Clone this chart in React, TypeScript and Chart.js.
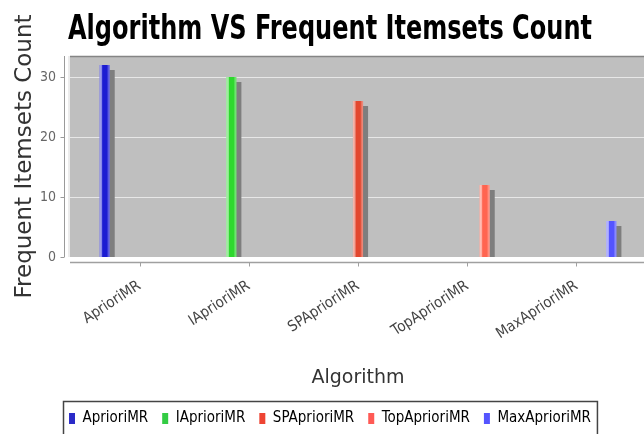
import React, { useEffect, useRef } from 'react';
import { Chart, registerables } from 'chart.js';

Chart.register(...registerables);

const categories = ['AprioriMR', 'IAprioriMR', 'SPAprioriMR', 'TopAprioriMR', 'MaxAprioriMR'];
const seriesNames = ['AprioriMR', 'IAprioriMR', 'SPAprioriMR', 'TopAprioriMR', 'MaxAprioriMR'];
const itemsetCounts = [32, 30, 26, 12, 6];
const barColors = ['#1c1cd2', '#2ed82e', '#e2472f', '#ff6450', '#5454ff'];
const legendColors = ['#2a2ac8', '#33cc44', '#ee4433', '#ff5a55', '#5555ff'];
const yTickValues = [0, 10, 20, 30];
const yMax = 33.5;

const chartTitle = 'Algorithm VS Frequent Itemsets Count';
const xTitle = 'Algorithm';
const yTitle = 'Frequent Itemsets Count';

const plotDecor = {
  id: 'plotDecor',
  beforeDatasetsDraw(chart: any) {
    const { ctx, chartArea: ca, scales } = chart;
    const y = scales.y;
    const x = scales.x;
    const bgLeft = ca.left - 15;
    ctx.save();
    ctx.fillStyle = '#bfbfbf';
    ctx.fillRect(bgLeft, ca.top, chart.width - bgLeft, ca.bottom - ca.top);
    ctx.strokeStyle = 'rgba(235,235,235,0.9)';
    ctx.lineWidth = 1;
    yTickValues.forEach((v) => {
      if (v === 0) return;
      const py = Math.round(y.getPixelForValue(v)) + 0.5;
      ctx.beginPath();
      ctx.moveTo(bgLeft, py);
      ctx.lineTo(chart.width, py);
      ctx.stroke();
    });
    ctx.strokeStyle = '#858585';
    ctx.lineWidth = 1.5;
    ctx.beginPath();
    ctx.moveTo(bgLeft, ca.top + 0.5);
    ctx.lineTo(chart.width, ca.top + 0.5);
    ctx.stroke();
    ctx.strokeStyle = '#e6e6e6';
    ctx.lineWidth = 1.5;
    ctx.beginPath();
    ctx.moveTo(bgLeft - 1, ca.top);
    ctx.lineTo(bgLeft - 1, ca.bottom);
    ctx.stroke();
    const axX = ca.left - 20.5;
    ctx.strokeStyle = '#9a9a9a';
    ctx.lineWidth = 1;
    ctx.beginPath();
    ctx.moveTo(axX, ca.top);
    ctx.lineTo(axX, ca.bottom);
    ctx.stroke();
    yTickValues.forEach((v) => {
      const py = Math.round(y.getPixelForValue(v)) + 0.5;
      ctx.beginPath();
      ctx.moveTo(axX - 4, py);
      ctx.lineTo(axX, py);
      ctx.stroke();
    });
    const axY = ca.bottom + 5.5;
    ctx.strokeStyle = '#a0a0a0';
    ctx.lineWidth = 1.5;
    ctx.beginPath();
    ctx.moveTo(bgLeft, axY);
    ctx.lineTo(chart.width, axY);
    ctx.stroke();
    ctx.lineWidth = 1;
    categories.forEach((_, i) => {
      const px = Math.round(x.getPixelForValue(i)) + 0.5;
      ctx.beginPath();
      ctx.moveTo(px, axY);
      ctx.lineTo(px, axY + 4);
      ctx.stroke();
    });
    ctx.restore();
    ctx.save();
    ctx.shadowColor = '#7e7e7e';
    ctx.shadowOffsetX = 5;
    ctx.shadowOffsetY = 5;
    ctx.shadowBlur = 0;
  },
  afterDatasetsDraw(chart: any) {
    const { ctx, chartArea: ca } = chart;
    ctx.restore();
    ctx.save();
    ctx.beginPath();
    ctx.rect(ca.left - 15, ca.top, chart.width, ca.bottom - ca.top);
    ctx.clip();
    chart.data.datasets.forEach((ds: any, di: number) => {
      const meta = chart.getDatasetMeta(di);
      meta.data.forEach((el: any, j: number) => {
        if (ds.data[j] == null) return;
        const p = el.getProps(['x', 'y', 'base', 'width'], true);
        const left = p.x - p.width / 2;
        const g = ctx.createLinearGradient(left, 0, left + p.width, 0);
        g.addColorStop(0, 'rgba(255,255,255,0.65)');
        g.addColorStop(0.22, 'rgba(255,255,255,0.45)');
        g.addColorStop(0.3, 'rgba(255,255,255,0)');
        g.addColorStop(0.72, 'rgba(255,255,255,0)');
        g.addColorStop(0.85, 'rgba(255,255,255,0.25)');
        g.addColorStop(1, 'rgba(255,255,255,0.4)');
        ctx.fillStyle = g;
        ctx.fillRect(left, p.y, p.width, p.base - p.y);
      });
    });
    ctx.restore();
  },
  afterDraw(chart: any) {
    const { ctx } = chart;
    // chart title, horizontally condensed like the original
    ctx.save();
    ctx.font = 'bold 34px "DejaVu Sans Condensed", "DejaVu Sans", sans-serif';
    ctx.fillStyle = '#000';
    ctx.textAlign = 'center';
    ctx.textBaseline = 'alphabetic';
    const w = ctx.measureText(chartTitle).width;
    const sx = 524 / w;
    ctx.translate(330, 39);
    ctx.scale(sx, 1);
    ctx.fillText(chartTitle, 0, 0);
    ctx.restore();

    const lg = chart.legend;
    if (!lg || !lg.legendHitBoxes || !lg.legendHitBoxes.length) return;
    const boxes = lg.legendHitBoxes;
    let minL = Infinity;
    let maxR = -Infinity;
    boxes.forEach((b: any) => {
      minL = Math.min(minL, b.left);
      maxR = Math.max(maxR, b.left + b.width);
    });
    ctx.save();
    ctx.strokeStyle = '#444';
    ctx.lineWidth = 1.5;
    ctx.strokeRect(Math.round(minL - 6) + 0.5, Math.round(lg.top + 4) + 0.5, maxR - minL + 12, 44);
    ctx.restore();
  },
};

export default function App() {
  const ref = useRef<HTMLCanvasElement | null>(null);
  useEffect(() => {
    if (!ref.current) return;
    const chart = new Chart(ref.current, {
      type: 'bar',
      data: {
        labels: categories,
        datasets: seriesNames.map((name, i) => ({
          label: name,
          data: categories.map((_, j) => (j === i ? itemsetCounts[i] : null)),
          backgroundColor: barColors[i],
          borderWidth: 0,
          categoryPercentage: 0.8,
          barPercentage: 0.58,
          yAxisID: 'y',
        })),
      },
      options: {
        responsive: false,
        animation: false,
        events: [],
        layout: { padding: { top: 56, left: 0, right: 0, bottom: 0 } },
        scales: {
          x: {
            grid: { display: false, drawTicks: false },
            border: { display: false },
            ticks: {
              autoSkip: false,
              minRotation: 33,
              maxRotation: 33,
              padding: 20,
              color: '#444',
              font: { family: '"DejaVu Sans Condensed", "DejaVu Sans", sans-serif', size: 15 },
            },
            title: {
              display: true,
              text: xTitle,
              color: '#333',
              padding: { top: 0, bottom: 8 },
              font: { family: '"DejaVu Sans", sans-serif', size: 19 },
            },
            afterFit: (s: any) => {
              s.height = 140;
            },
          },
          y: {
            min: 0,
            max: yMax,
            grid: { display: false, drawTicks: false },
            border: { display: false },
            ticks: {
              stepSize: 10,
              includeBounds: false,
              padding: 29,
              color: '#666',
              font: { family: '"DejaVu Sans Condensed", "DejaVu Sans", sans-serif', size: 14 },
            },
            title: {
              display: true,
              text: yTitle,
              color: '#333',
              padding: { top: 11, bottom: 0 },
              font: { family: '"DejaVu Sans", sans-serif', size: 23 },
            },
            afterFit: (s: any) => {
              s.width = 85;
            },
          },
          yR: {
            type: 'linear',
            position: 'right',
            display: true,
            grid: { display: false, drawTicks: false },
            border: { display: false },
            ticks: { display: false },
            afterFit: (s: any) => {
              s.width = 29;
            },
          },
        },
        plugins: {
          tooltip: { enabled: false },
          title: { display: false },
          legend: {
            display: true,
            position: 'bottom',
            labels: {
              boxWidth: 6,
              boxHeight: 11,
              padding: 14,
              color: '#333',
              font: { family: '"DejaVu Sans Condensed", "DejaVu Sans", sans-serif', size: 15 },
              generateLabels: () =>
                seriesNames.map((n, i) => ({
                  text: n,
                  fillStyle: legendColors[i],
                  strokeStyle: legendColors[i],
                  lineWidth: 0,
                  hidden: false,
                  datasetIndex: i,
                })),
            },
          },
        },
      },
      plugins: [plotDecor],
    } as any);
    return () => chart.destroy();
  }, []);
  return (
    <div
      style={{
        position: 'fixed',
        left: 0,
        top: 0,
        width: 644,
        height: 434,
        overflow: 'hidden',
        background: '#fff',
      }}
    >
      <canvas ref={ref} width={660} height={436} style={{ display: 'block', width: 660, height: 436 }} />
    </div>
  );
}
